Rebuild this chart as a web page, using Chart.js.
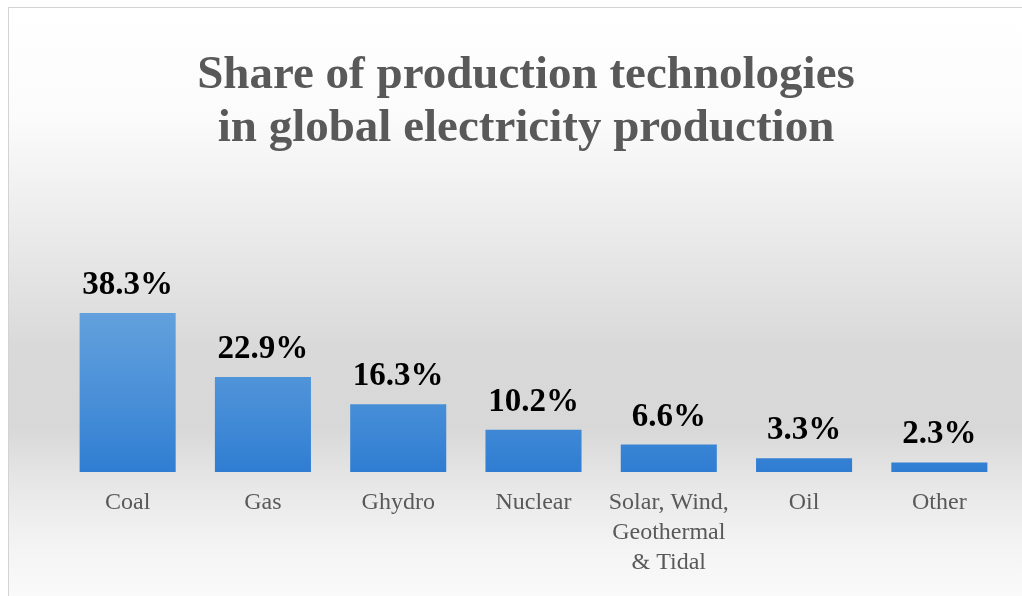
<!DOCTYPE html>
<html>
<head>
  <title>Share of production technologies</title>
  <script src="https://cdn.jsdelivr.net/npm/chart.js"></script>
  <style>
    html, body { margin: 0; padding: 0; overflow: hidden; background: #fff; width: 1022px; height: 596px; }
    .frame {
      position: absolute; left: 8px; top: 7px; width: 1034px; height: 600px;
      border: 1px solid #d3d3d3;
      background: linear-gradient(to bottom, #ffffff 0px, #fbfbfb 110px, #ebebeb 220px, #d9d9d9 340px, #d8d8d8 420px, #e8e8e8 480px, #f4f4f4 540px, #fbfbfb 600px);
    }
    canvas { display: block; }
  </style>
</head>
<body>
  <div class="frame"><canvas id="chart" width="1034" height="600"></canvas></div>
  <script>
    const categories = ['Coal', 'Gas', 'Ghydro', 'Nuclear', ['Solar, Wind,', 'Geothermal', '& Tidal'], 'Oil', 'Other'];
    const shares = [38.3, 22.9, 16.3, 10.2, 6.6, 3.3, 2.3];
    const titleLines = ['Share of production technologies', 'in global electricity production'];

    const serif = "'Liberation Serif', 'Times New Roman', serif";

    // value labels above each bar
    const valueLabels = {
      id: 'valueLabels',
      afterDatasetsDraw(chart) {
        const ctx = chart.ctx;
        const meta = chart.getDatasetMeta(0);
        ctx.save();
        ctx.font = 'bold 33px ' + serif;
        ctx.fillStyle = '#000';
        ctx.textAlign = 'center';
        ctx.textBaseline = 'alphabetic';
        meta.data.forEach((bar, i) => {
          ctx.fillText(shares[i].toFixed(1) + '%', bar.x, bar.y - 19);
        });
        ctx.restore();
      }
    };

    const barFill = (c) => {
      const area = c.chart.chartArea;
      if (!area) return '#4a8fd6';
      const g = c.chart.ctx.createLinearGradient(0, area.top, 0, area.bottom);
      g.addColorStop(0, '#6aa6de');
      g.addColorStop(0.6, '#4a90d8');
      g.addColorStop(1, '#2f7dd2');
      return g;
    };

    new Chart(document.getElementById('chart'), {
      type: 'bar',
      data: {
        labels: categories,
        datasets: [{
          data: shares,
          backgroundColor: barFill,
          borderWidth: 0,
          categoryPercentage: 1,
          barPercentage: 0.71
        }]
      },
      options: {
        responsive: false,
        animation: false,
        layout: { padding: { left: 36, right: 36, top: 0, bottom: 14 } },
        plugins: {
          legend: { display: false },
          tooltip: { enabled: false },
          title: {
            display: true,
            text: titleLines,
            color: '#595959',
            font: { family: serif, size: 47, weight: 'bold', lineHeight: 1.13 },
            padding: { top: 41, bottom: 130 }
          }
        },
        scales: {
          x: {
            grid: { display: false, drawTicks: false },
            border: { display: false },
            ticks: {
              color: '#595959',
              padding: 16,
              maxRotation: 0,
              autoSkip: false,
              font: { family: serif, size: 24, lineHeight: 1.25 }
            }
          },
          y: {
            min: 0,
            max: 45,
            grid: { display: false, drawTicks: false },
            border: { display: false },
            ticks: { display: false },
            afterFit(scale) { scale.width = 15; }
          }
        }
      },
      plugins: [valueLabels]
    });
  </script>
</body>
</html>
